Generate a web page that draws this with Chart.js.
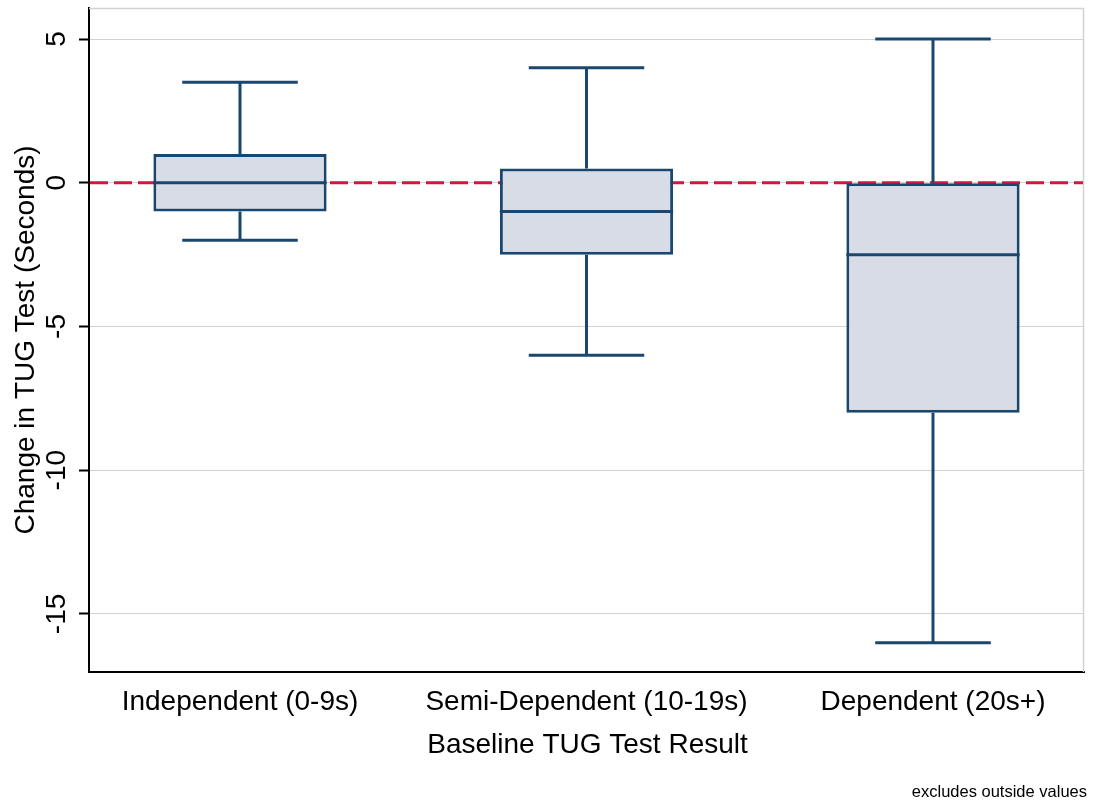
<!DOCTYPE html>
<html>
<head>
<meta charset="utf-8">
<script src="https://cdn.jsdelivr.net/npm/chart.js@4.4.1/dist/chart.umd.min.js"></script>
<style>
  html, body { margin: 0; padding: 0; background: #fff; }
  #wrap { width: 1093px; height: 802px; position: relative; }
</style>
</head>
<body>
<div id="wrap"><canvas id="c"></canvas></div>
<script>
// Box-plot summary per baseline group
const categories = ['Independent (0-9s)', 'Semi-Dependent (10-19s)', 'Dependent (20s+)'];
const whiskerLow = [-2, -6, -16];
const lowerQuartile = [-1, -2.5, -8];
const medians = [0, -1, -2.5];
const upperQuartile = [1, 0.5, 0];
const whiskerHigh = [3.5, 4, 5];
const yTickValues = [5, 0, -5, -10, -15];
const referenceLine = 0;
const xTitle = 'Baseline TUG Test Result';
const yTitle = 'Change in TUG Test (Seconds)';
const footNote = 'excludes outside values';

const FONT = "'Liberation Sans', Arial, sans-serif";
const NAVY = '#1a476f';
const BOX_FILL = '#d8dce6';
const GRID = '#d2d2d2';
const RED = '#d0183c';

const positions = categories.map((_, i) => i + 1);

const boxPlot = {
  id: 'boxPlot',
  beforeDatasetsDraw(chart) {
    const { ctx, chartArea: a, scales: { y } } = chart;
    ctx.save();
    // light frame on the top and right sides
    ctx.strokeStyle = GRID;
    ctx.lineWidth = 1.5;
    ctx.beginPath();
    ctx.moveTo(a.left, a.top + 0.5);
    ctx.lineTo(a.right - 0.5, a.top + 0.5);
    ctx.lineTo(a.right - 0.5, a.bottom);
    ctx.stroke();
    // dashed reference line at zero change
    const y0 = y.getPixelForValue(referenceLine);
    ctx.strokeStyle = RED;
    ctx.lineWidth = 3;
    ctx.setLineDash([18, 6]);
    ctx.beginPath();
    ctx.moveTo(a.left + 1, y0);
    ctx.lineTo(a.right - 1, y0);
    ctx.stroke();
    ctx.restore();
  },
  afterDatasetsDraw(chart) {
    const { ctx, scales: { y } } = chart;
    const meta = chart.getDatasetMeta(0);
    ctx.save();
    ctx.strokeStyle = NAVY;
    ctx.lineWidth = 3;
    ctx.lineCap = 'butt';
    meta.data.forEach((bar, i) => {
      const cx = bar.x;
      const half = bar.width / 2;
      const cap = bar.width / 3;
      const yHi = y.getPixelForValue(whiskerHigh[i]);
      const yQ3 = y.getPixelForValue(upperQuartile[i]);
      const yMed = y.getPixelForValue(medians[i]);
      const yQ1 = y.getPixelForValue(lowerQuartile[i]);
      const yLo = y.getPixelForValue(whiskerLow[i]);
      ctx.beginPath();
      // upper whisker and cap
      ctx.moveTo(cx, yQ3); ctx.lineTo(cx, yHi);
      ctx.moveTo(cx - cap, yHi); ctx.lineTo(cx + cap, yHi);
      // lower whisker and cap
      ctx.moveTo(cx, yQ1); ctx.lineTo(cx, yLo);
      ctx.moveTo(cx - cap, yLo); ctx.lineTo(cx + cap, yLo);
      // median
      ctx.moveTo(cx - half, yMed); ctx.lineTo(cx + half, yMed);
      ctx.stroke();
    });
    ctx.restore();
  },
  afterDraw(chart) {
    const { ctx, chartArea: a, scales: { x, y } } = chart;
    ctx.save();
    ctx.fillStyle = '#000';
    ctx.textAlign = 'center';
    ctx.textBaseline = 'alphabetic';
    ctx.font = '28px ' + FONT;
    // rotated y tick labels
    yTickValues.forEach(v => {
      const py = y.getPixelForValue(v);
      ctx.save();
      ctx.translate(65, py);
      ctx.rotate(-Math.PI / 2);
      ctx.fillText(String(v), 0, 0);
      ctx.restore();
    });
    // y axis title
    ctx.save();
    ctx.translate(34, (a.top + a.bottom) / 2);
    ctx.rotate(-Math.PI / 2);
    ctx.fillText(yTitle, 0, 0);
    ctx.restore();
    // category labels
    categories.forEach((c, i) => {
      ctx.fillText(c, x.getPixelForValue(positions[i]), 710);
    });
    // x axis title
    ctx.fillText(xTitle, (a.left + a.right) / 2 + 1, 753);
    // note
    ctx.font = '16.5px ' + FONT;
    ctx.textAlign = 'right';
    ctx.fillText(footNote, 1087, 797);
    ctx.restore();
  }
};

new Chart(document.getElementById('c'), {
  type: 'bar',
  data: {
    datasets: [{
      data: positions.map((p, i) => ({ x: p, y: [lowerQuartile[i], upperQuartile[i]] })),
      backgroundColor: BOX_FILL,
      borderColor: NAVY,
      borderWidth: 3,
      borderSkipped: false,
      categoryPercentage: 1,
      barPercentage: 0.5
    }]
  },
  options: {
    responsive: true,
    maintainAspectRatio: false,
    animation: false,
    events: [],
    layout: { padding: { top: 8, right: 9, left: 0, bottom: 0 } },
    plugins: { legend: { display: false }, tooltip: { enabled: false } },
    scales: {
      x: {
        type: 'linear',
        offset: false,
        min: 0.5642,
        max: 3.4358,
        afterBuildTicks: s => { s.ticks = positions.map(v => ({ value: v })); },
        afterFit: s => { s.height = 130; },
        ticks: { display: false },
        grid: { display: false, drawTicks: false },
        border: { display: true, color: '#000', width: 2 }
      },
      y: {
        type: 'linear',
        min: -17.02,
        max: 6.08,
        afterBuildTicks: s => { s.ticks = yTickValues.map(v => ({ value: v })); },
        afterFit: s => { s.width = 89; },
        ticks: { display: false },
        grid: { color: GRID, lineWidth: 1, drawTicks: true, tickLength: 10, tickColor: '#000', tickWidth: 2 },
        border: { display: true, color: '#000', width: 2 }
      }
    }
  },
  plugins: [boxPlot]
});
</script>
</body>
</html>
